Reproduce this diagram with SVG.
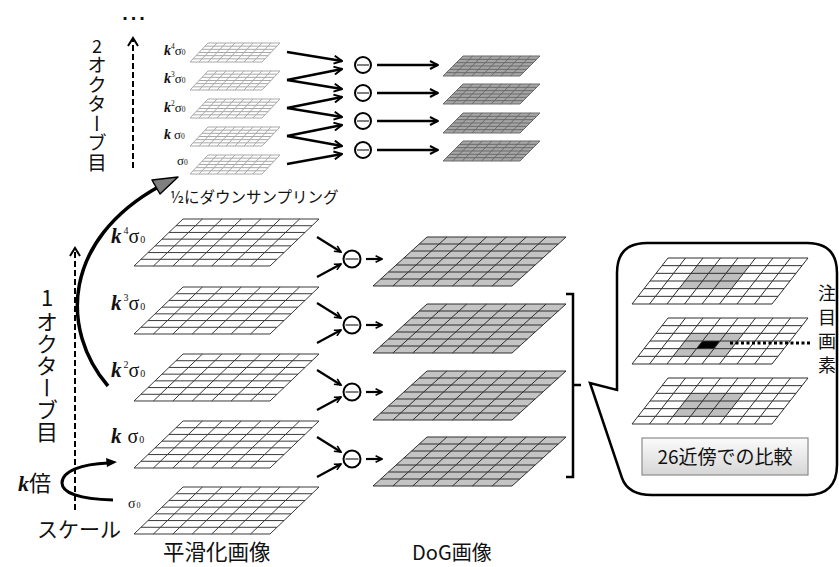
<svg xmlns="http://www.w3.org/2000/svg" xmlns:xlink="http://www.w3.org/1999/xlink" width="839" height="567" viewBox="0 0 839 567">
<style>
.jp{font-family:"Noto Sans CJK JP","Noto Sans",sans-serif;fill:#111}
.kk{font-family:"Liberation Serif",serif;font-weight:bold;font-style:italic;fill:#111}
.sg{font-family:"Liberation Serif",serif;fill:#111}
.vert{writing-mode:vertical-rl;text-orientation:upright}
.gs{fill:#fff;stroke:#3a3a3a}
.gd{fill:#c4c4c4;stroke:#2e2e2e}
.gss{fill:#fff;stroke:#a8a8a8}
.gsd{fill:#a6a6a6;stroke:#6a6a6a}
.gc{fill:none;stroke:#2e2e2e}
.ln{fill:none;stroke:#000;stroke-width:2.2}
.lnt{fill:none;stroke:#000;stroke-width:2.4}
.circ{fill:#fff;stroke:#000;stroke-width:2}
.minus{stroke:#555;stroke-width:1.5}
.dash{fill:none;stroke:#000;stroke-width:2;stroke-dasharray:6 3}
</style>
<defs>
<path id="g77" vector-effect="non-scaling-stroke" d="M0,0H7V7H0Z M1,0V7M2,0V7M3,0V7M4,0V7M5,0V7M6,0V7 M0,1H7M0,2H7M0,3H7M0,4H7M0,5H7M0,6H7"/>
<path id="g86" vector-effect="non-scaling-stroke" d="M0,0H8V6H0Z M1,0V6M2,0V6M3,0V6M4,0V6M5,0V6M6,0V6M7,0V6 M0,1H8M0,2H8M0,3H8M0,4H8M0,5H8"/>
<marker id="ah" viewBox="0 0 10 10" refX="9" refY="5" markerWidth="10" markerHeight="10" markerUnits="userSpaceOnUse" orient="auto">
<path d="M1,1 L9,5 L1,9" fill="none" stroke="#000" stroke-width="2"/>
</marker>
<marker id="ahs" viewBox="0 0 10 10" refX="9" refY="5" markerWidth="8" markerHeight="8" markerUnits="userSpaceOnUse" orient="auto">
<path d="M1,1 L9,5 L1,9" fill="none" stroke="#000" stroke-width="2"/>
</marker>
<linearGradient id="btn" x1="0" y1="0" x2="0" y2="1">
<stop offset="0" stop-color="#fbfbfb"/>
<stop offset="1" stop-color="#d6d6d6"/>
</linearGradient>
</defs>

<!-- top ellipsis -->
<text x="135" y="20" font-family="Liberation Sans, sans-serif" font-size="20" font-weight="bold" letter-spacing="3" text-anchor="middle" fill="#111">...</text>

<!-- octave 2 label -->
<g id="octave2">
<text class="jp" x="97" y="53" font-size="18" text-anchor="middle">2</text>
<text class="jp vert" x="97" y="55" font-size="19.5">オクターブ目</text>
</g>

<!-- octave 1 label -->
<g id="octave1">
<text class="jp" x="47" y="306" font-size="22" text-anchor="middle">1</text>
<text class="jp vert" x="47" y="311" font-size="22">オクターブ目</text>
</g>

<!-- small smoothed grids (octave 2) -->
<g id="s2-k4"><use href="#g86" class="gss" transform="matrix(9,0,-3,3.167,208,43)"/>
<text x="164" y="55"><tspan class="kk" font-size="14">k</tspan><tspan class="sg" font-size="7.5" dy="-6">4</tspan><tspan class="sg" font-size="13" dy="6">σ</tspan><tspan class="sg" font-size="7.5">0</tspan></text></g>
<g id="s2-k3"><use href="#g86" class="gss" transform="matrix(9,0,-3,3.167,208,71)"/>
<text x="164" y="83"><tspan class="kk" font-size="14">k</tspan><tspan class="sg" font-size="7.5" dy="-6">3</tspan><tspan class="sg" font-size="13" dy="6">σ</tspan><tspan class="sg" font-size="7.5">0</tspan></text></g>
<g id="s2-k2"><use href="#g86" class="gss" transform="matrix(9,0,-3,3.167,208,99)"/>
<text x="164" y="112"><tspan class="kk" font-size="14">k</tspan><tspan class="sg" font-size="7.5" dy="-6">2</tspan><tspan class="sg" font-size="13" dy="6">σ</tspan><tspan class="sg" font-size="7.5">0</tspan></text></g>
<g id="s2-k1"><use href="#g86" class="gss" transform="matrix(9,0,-3,3.167,208,127)"/>
<text x="164" y="139"><tspan class="kk" font-size="14">k</tspan><tspan class="sg" font-size="13" dx="3">σ</tspan><tspan class="sg" font-size="7.5">0</tspan></text></g>
<g id="s2-k0"><use href="#g86" class="gss" transform="matrix(9,0,-3,3.167,208,155)"/>
<text x="177" y="165"><tspan class="sg" font-size="13">σ</tspan><tspan class="sg" font-size="7.5">0</tspan></text></g>

<!-- small DoG grids -->
<g id="d2-1"><use href="#g86" class="gsd" transform="matrix(9.625,0,-3.333,3.333,463,56)"/></g>
<g id="d2-2"><use href="#g86" class="gsd" transform="matrix(9.625,0,-3.333,3.333,463,84)"/></g>
<g id="d2-3"><use href="#g86" class="gsd" transform="matrix(9.625,0,-3.333,3.333,463,113)"/></g>
<g id="d2-4"><use href="#g86" class="gsd" transform="matrix(9.625,0,-3.333,3.333,463,141)"/></g>

<!-- small minus nodes -->
<g id="m2-1"><circle class="circ" cx="363" cy="65" r="8"/><line class="minus" x1="357" y1="65" x2="369" y2="65"/></g>
<g id="m2-2"><circle class="circ" cx="363" cy="93" r="8"/><line class="minus" x1="357" y1="93" x2="369" y2="93"/></g>
<g id="m2-3"><circle class="circ" cx="363" cy="121" r="8"/><line class="minus" x1="357" y1="121" x2="369" y2="121"/></g>
<g id="m2-4"><circle class="circ" cx="363" cy="150" r="8"/><line class="minus" x1="357" y1="150" x2="369" y2="150"/></g>

<!-- big smoothed grids (octave 1) -->
<g id="s1-k4"><use href="#g77" class="gs" transform="matrix(19.43,0,-7,6.714,183,219)"/>
<text x="111" y="243"><tspan class="kk" font-size="21">k</tspan><tspan class="sg" font-size="10" dx="2" dy="-9">4</tspan><tspan class="sg" font-size="20" dy="9">σ</tspan><tspan class="sg" font-size="10" dx="1">0</tspan></text></g>
<g id="s1-k3"><use href="#g77" class="gs" transform="matrix(19.43,0,-7,6.714,183,287)"/>
<text x="111" y="310"><tspan class="kk" font-size="21">k</tspan><tspan class="sg" font-size="10" dx="2" dy="-9">3</tspan><tspan class="sg" font-size="20" dy="9">σ</tspan><tspan class="sg" font-size="10" dx="1">0</tspan></text></g>
<g id="s1-k2"><use href="#g77" class="gs" transform="matrix(19.43,0,-7,6.714,183,354)"/>
<text x="111" y="377"><tspan class="kk" font-size="21">k</tspan><tspan class="sg" font-size="10" dx="2" dy="-9">2</tspan><tspan class="sg" font-size="20" dy="9">σ</tspan><tspan class="sg" font-size="10" dx="1">0</tspan></text></g>
<g id="s1-k1"><use href="#g77" class="gs" transform="matrix(19.43,0,-7,6.714,183,421)"/>
<text x="111" y="443"><tspan class="kk" font-size="21">k</tspan><tspan class="sg" font-size="20" dx="6">σ</tspan><tspan class="sg" font-size="10" dx="1">0</tspan></text></g>
<g id="s1-k0"><use href="#g77" class="gs" transform="matrix(19.43,0,-7,6.714,183,487)"/>
<text x="128" y="508"><tspan class="sg" font-size="14">σ</tspan><tspan class="sg" font-size="8" dx="1">0</tspan></text></g>

<!-- big DoG grids -->
<g id="d1-1"><use href="#g77" class="gd" transform="matrix(19.86,0,-7.714,7,427,237)"/></g>
<g id="d1-2"><use href="#g77" class="gd" transform="matrix(19.86,0,-7.714,7,427,304)"/></g>
<g id="d1-3"><use href="#g77" class="gd" transform="matrix(19.86,0,-7.714,7,427,371)"/></g>
<g id="d1-4"><use href="#g77" class="gd" transform="matrix(19.86,0,-7.714,7,427,437)"/></g>

<!-- big minus nodes -->
<g id="m1-1"><circle class="circ" cx="352" cy="259" r="8.5"/><line class="minus" x1="345.5" y1="259" x2="358.5" y2="259"/></g>
<g id="m1-2"><circle class="circ" cx="352" cy="325" r="8.5"/><line class="minus" x1="345.5" y1="325" x2="358.5" y2="325"/></g>
<g id="m1-3"><circle class="circ" cx="352" cy="392" r="8.5"/><line class="minus" x1="345.5" y1="392" x2="358.5" y2="392"/></g>
<g id="m1-4"><circle class="circ" cx="352" cy="459" r="8.5"/><line class="minus" x1="345.5" y1="459" x2="358.5" y2="459"/></g>

<!-- connectors -->
<g id="connectors">
<path class="lnt" marker-end="url(#ah)" d="M287,52 L342,61"/>
<path class="lnt" marker-end="url(#ah)" d="M287,80 L342,69"/>
<path class="lnt" marker-end="url(#ah)" d="M287,80 L342,89"/>
<path class="lnt" marker-end="url(#ah)" d="M287,108 L342,97"/>
<path class="lnt" marker-end="url(#ah)" d="M287,108 L342,117"/>
<path class="lnt" marker-end="url(#ah)" d="M287,136 L342,125"/>
<path class="lnt" marker-end="url(#ah)" d="M287,136 L342,146"/>
<path class="lnt" marker-end="url(#ah)" d="M287,164 L342,154"/>
<path class="lnt" marker-end="url(#ah)" d="M377,65 H438"/>
<path class="lnt" marker-end="url(#ah)" d="M377,93 H438"/>
<path class="lnt" marker-end="url(#ah)" d="M377,121 H438"/>
<path class="lnt" marker-end="url(#ah)" d="M377,150 H438"/>
<path class="ln" marker-end="url(#ahs)" d="M317,237 L341,252"/>
<path class="ln" marker-end="url(#ahs)" d="M317,277 L341,264"/>
<path class="ln" marker-end="url(#ahs)" d="M317,303 L341,318"/>
<path class="ln" marker-end="url(#ahs)" d="M317,343 L341,330"/>
<path class="ln" marker-end="url(#ahs)" d="M317,370 L341,385"/>
<path class="ln" marker-end="url(#ahs)" d="M317,410 L341,397"/>
<path class="ln" marker-end="url(#ahs)" d="M317,437 L341,452"/>
<path class="ln" marker-end="url(#ahs)" d="M317,477 L341,464"/>
<path class="ln" marker-end="url(#ahs)" d="M366,259 H382"/>
<path class="ln" marker-end="url(#ahs)" d="M366,325 H382"/>
<path class="ln" marker-end="url(#ahs)" d="M366,392 H382"/>
<path class="ln" marker-end="url(#ahs)" d="M366,459 H382"/>
<path class="dash" d="M133,168 V40"/>
<path d="M128,46 L133,38 L138,46" fill="none" stroke="#000" stroke-width="2"/>
<path class="dash" d="M75,510 V250"/>
<path d="M70,256 L75,248 L80,256" fill="none" stroke="#000" stroke-width="2"/>
<path d="M108,386 C 60,330 62,240 160,186" fill="none" stroke="#000" stroke-width="3.5"/>
<polygon points="178,177 152,180 160,194" fill="#7f7f7f" stroke="#000" stroke-width="1.5" stroke-linejoin="round"/>
<path d="M113,500 C 80,499 62,493 62,483 C 62,471 82,464 108,463" fill="none" stroke="#000" stroke-width="3"/>
<polygon points="117,462 106,458 107,467" fill="#000"/>
<path d="M566,294 H573 V477 H566 M573,385 H581" fill="none" stroke="#000" stroke-width="2.5"/>
</g>

<text class="jp" x="170" y="203" font-size="15.5" fill="#222">½にダウンサンプリング</text>

<g id="ktimes">
<text x="18" y="491"><tspan class="kk" font-size="22">k</tspan><tspan class="jp" font-size="22">倍</tspan></text>
</g>

<text class="jp" x="37" y="537" font-size="21">スケール</text>
<text class="jp" x="163" y="560" font-size="21.5">平滑化画像</text>
<text class="jp" x="412" y="560" font-size="20">DoG画像</text>

<!-- callout -->
<g id="callout">
<path d="M647,243 H807 Q837,243 837,273 V465 Q837,495 807,495 H652 Q628,495 622,478 L590,383 L617,390 V273 Q617,243 647,243 Z" fill="#fff" stroke="#000" stroke-width="2.5"/>
<g id="c-top">
<path d="M2,1H5V4H2Z" fill="#bfbfbf" transform="matrix(17.5,0,-6,7.667,668,258)"/>
<use href="#g86" class="gc" transform="matrix(17.5,0,-6,7.667,668,258)"/>
</g>
<g id="c-mid">
<path d="M2,2H5V5H2Z" fill="#bfbfbf" transform="matrix(17.5,0,-6,7.667,668,318)"/>
<path d="M3,3H4V4H3Z" fill="#000" transform="matrix(17.5,0,-6,7.667,668,318)"/>
<use href="#g86" class="gc" transform="matrix(17.5,0,-6,7.667,668,318)"/>
</g>
<g id="c-bot">
<path d="M2,2H5V5H2Z" fill="#bfbfbf" transform="matrix(17.5,0,-6,7.667,668,378)"/>
<use href="#g86" class="gc" transform="matrix(17.5,0,-6,7.667,668,378)"/>
</g>
<path d="M730,343 H812" fill="none" stroke="#000" stroke-width="3" stroke-dasharray="3 2.5"/>
<text class="jp" x="818" y="300" font-size="18"><tspan x="818">注</tspan><tspan x="818" dy="24">目</tspan><tspan x="818" dy="24">画</tspan><tspan x="818" dy="24">素</tspan></text>
<g id="button">
<rect x="642" y="438" width="166" height="37" fill="url(#btn)" stroke="#8c8c8c" stroke-width="1.2"/>
<text class="jp" x="725" y="464" font-size="19" text-anchor="middle" fill="#222">26近傍での比較</text>
</g>
</g>
</svg>
